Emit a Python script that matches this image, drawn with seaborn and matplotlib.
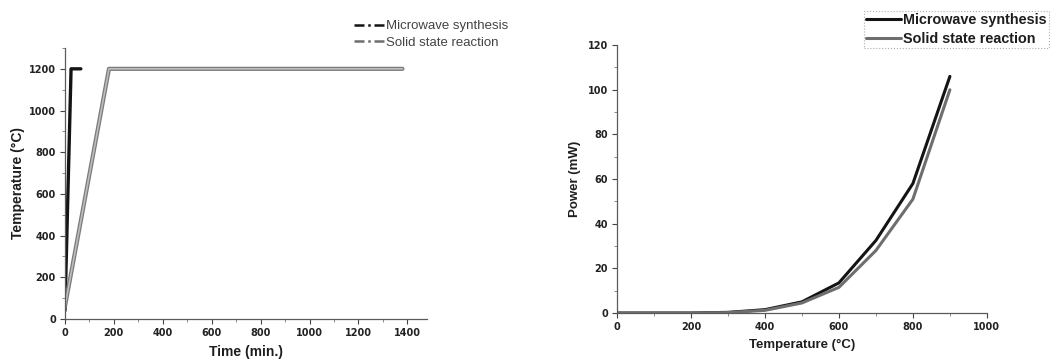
import matplotlib
matplotlib.use("Agg")
import matplotlib.pyplot as plt
import matplotlib.patheffects as pe
from matplotlib.lines import Line2D
from matplotlib.ticker import MultipleLocator
import pandas as pd
import seaborn as sns

# Heating profiles: time (min) vs furnace temperature (°C)
mw_time = [0, 25, 65]
mw_temp = [40, 1200, 1200]
ss_time = [0, 180, 1380]
ss_temp = [60, 1200, 1200]

# Power consumption vs temperature
power_temp = [0, 100, 200, 300, 400, 500, 600, 700, 800, 900]
mw_power = [0, 0, 0, 0.3, 1.5, 5.0, 13.5, 32.5, 58.0, 106.0]
ss_power = [0, 0, 0, 0.2, 1.2, 4.5, 11.5, 28.0, 51.0, 100.0]

series_names = ["Microwave synthesis", "Solid state reaction"]
colors = {"Microwave synthesis": "#141414", "Solid state reaction": "#6e6e6e"}

sns.set_theme(style="ticks")
plt.rcParams["font.family"] = ["Liberation Sans", "DejaVu Sans"]

heat = pd.concat([
    pd.DataFrame({"time": mw_time, "temp": mw_temp, "series": series_names[0]}),
    pd.DataFrame({"time": ss_time, "temp": ss_temp, "series": series_names[1]}),
])
power = pd.concat([
    pd.DataFrame({"temp": power_temp, "power": mw_power, "series": series_names[0]}),
    pd.DataFrame({"temp": power_temp, "power": ss_power, "series": series_names[1]}),
])

fig = plt.figure(figsize=(10.51, 3.63), dpi=100)
ax1 = fig.add_axes([0.0618, 0.1212, 0.3444, 0.7466])
ax2 = fig.add_axes([0.587, 0.1377, 0.352, 0.738])

sns.lineplot(data=heat, x="time", y="temp", hue="series", palette=colors,
             linewidth=2.4, ax=ax1, legend=False, sort=False, estimator=None)
sns.lineplot(data=power, x="temp", y="power", hue="series", palette=colors,
             linewidth=2.2, ax=ax2, legend=False, sort=False, estimator=None)

# Solid-state heating trace drawn as a hollow grey stroke
ss_line = ax1.get_lines()[1]
ss_line.set_color("#bdbdbd")
ss_line.set_linewidth(1.2)
ss_line.set_path_effects([pe.Stroke(linewidth=3.0, foreground="#7a7a7a"), pe.Normal()])

tick_font = {"family": "DejaVu Sans", "weight": "bold", "size": 7}

ax1.set_xlim(0, 1480)
ax1.set_ylim(0, 1300)
ax1.set_xticks([0, 200, 400, 600, 800, 1000, 1200, 1400])
ax1.xaxis.set_minor_locator(MultipleLocator(100))
ax1.set_yticks([0, 200, 400, 600, 800, 1000, 1200])
ax1.yaxis.set_minor_locator(MultipleLocator(100))
ax1.set_xlabel("Time (min.)", fontsize=10, fontweight="bold", labelpad=5)
ax1.set_ylabel("Temperature (°C)", fontsize=10, fontweight="bold", labelpad=3)

ax2.set_xlim(0, 1000)
ax2.set_ylim(0, 120)
ax2.xaxis.set_major_locator(MultipleLocator(200))
ax2.xaxis.set_minor_locator(MultipleLocator(100))
ax2.yaxis.set_major_locator(MultipleLocator(20))
ax2.yaxis.set_minor_locator(MultipleLocator(10))
ax2.set_xlabel("Temperature (°C)", fontsize=9.5, fontweight="bold", labelpad=5)
ax2.set_ylabel("Power (mW)", fontsize=9.5, fontweight="bold", labelpad=5)

for ax in (ax1, ax2):
    for side in ("top", "right"):
        ax.spines[side].set_visible(False)
    for side in ("left", "bottom"):
        ax.spines[side].set_color("#5a5a5a")
        ax.spines[side].set_linewidth(0.9)
    ax.tick_params(which="major", direction="out", length=3.5, width=0.8,
                   color="#444444", pad=3)
    ax.tick_params(which="minor", direction="out", length=2, width=0.6, color="#777777")
    for lab in ax.get_xticklabels() + ax.get_yticklabels():
        lab.set_fontproperties(tick_font)
        lab.set_color("#222222")
    ax.xaxis.label.set_color("#1e1e1e")
    ax.yaxis.label.set_color("#1e1e1e")

# Legend for the heating profiles (dash-dot keys, regular grey text)
h1 = [Line2D([], [], color=colors[n], linewidth=1.8, dashes=(4, 1.5, 1, 1.5))
      for n in series_names]
leg1 = fig.legend(h1, series_names, loc="upper left", bbox_to_anchor=(0.328, 0.97),
                  frameon=False, fontsize=9.5, handlelength=2.3, handletextpad=0.15,
                  labelspacing=0.3, borderpad=0.2)
for t in leg1.get_texts():
    t.set_color("#444444")

# Legend for the power curves (bold text, dotted frame)
h2 = [Line2D([], [], color=colors[n], linewidth=2.2) for n in series_names]
leg2 = fig.legend(h2, series_names, loc="upper left", bbox_to_anchor=(0.8155, 0.99),
                  frameon=True, handlelength=2.4, handletextpad=0.15,
                  labelspacing=0.35, borderpad=0.15, fancybox=False,
                  prop={"weight": "bold", "size": 10.4})
leg2.get_frame().set_edgecolor("#9a9a9a")
leg2.get_frame().set_linestyle(":")
leg2.get_frame().set_linewidth(0.8)
for t in leg2.get_texts():
    t.set_color("#1e1e1e")

fig.savefig("out.png", dpi=100)
